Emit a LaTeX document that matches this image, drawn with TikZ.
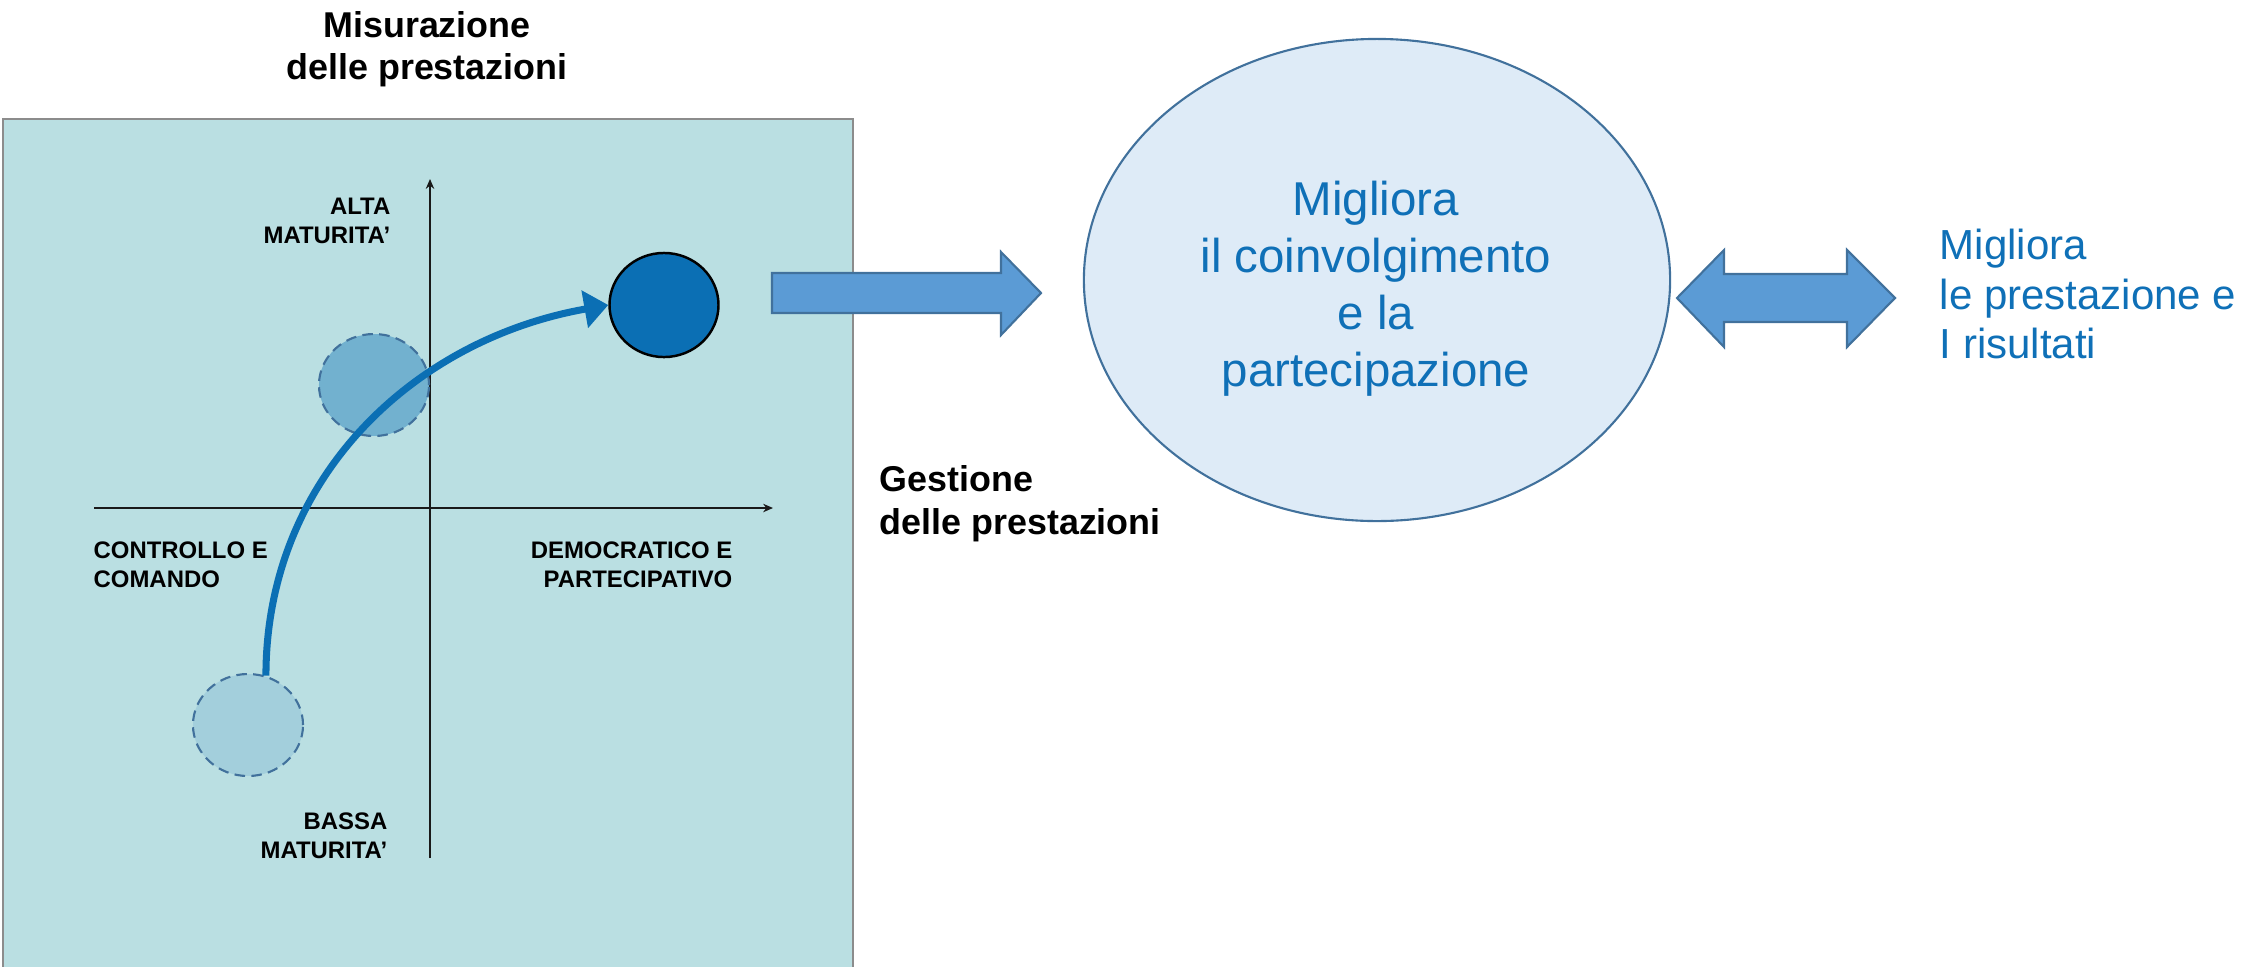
\documentclass[tikz,border=0pt]{standalone}
\usepackage{fontspec}
\setmainfont{Liberation Sans}
\usetikzlibrary{arrows.meta,shapes.geometric,positioning}

\definecolor{panelteal}{HTML}{BADFE2}
\definecolor{ringblue}{HTML}{41719C}
\definecolor{arrowblue}{HTML}{5B9BD5}
\definecolor{deepblue}{HTML}{0B6FB4}
\definecolor{textblue}{HTML}{0F70B7}
\definecolor{midblue}{HTML}{72B1CF}
\definecolor{paleblue}{HTML}{A3CFDC}
\definecolor{cloud}{HTML}{DEEBF7}

\begin{document}
\begin{tikzpicture}[x=0.01cm,y=-0.01cm,
    title node/.style={font=\bfseries\fontsize{10.2pt}{11.9pt}\selectfont,inner sep=0},
    axis label/.style={font=\bfseries\fontsize{6.8pt}{8.25pt}\selectfont,inner sep=0},
    axis/.style={line width=0.55pt,draw=black!90,-{Stealth[length=2.8pt,width=2.4pt]}},
    ghost/.style={ellipse,draw=ringblue,line width=0.6pt,dash pattern=on 3pt off 1.8pt,minimum width=31.3pt,minimum height=29pt,inner sep=0},
    goal/.style={ellipse,draw=black,line width=0.7pt,fill=deepblue,minimum width=31pt,minimum height=29.6pt,inner sep=0},
    trend/.style={line width=2pt,draw=deepblue,-{Triangle[length=6.8pt,width=10.5pt]}},
    block/.style={draw=ringblue,fill=arrowblue,line width=0.6pt,line join=miter},
    blue text/.style={text=textblue,inner sep=0}]

    \useasboundingbox (0,0) rectangle (2245,966);

    % quadrant panel
    \draw[draw=gray!90,fill=panelteal,line width=0.45pt] (3,119) rectangle (853,980);
    \node[title node,align=center] (title) at (427,49) {Misurazione\\delle prestazioni};

    \coordinate (yb) at (430,858);
    \coordinate (yt) at (430,179);
    \coordinate (xl) at (94,508);
    \coordinate (xr) at (773,508);
    \path (yb) edge[axis] (yt)
          (xl) edge[axis] (xr);

    \node[axis label,align=right,anchor=east] (alta) at (391,221) {ALTA\\MATURITA’};
    \node[axis label,align=right,anchor=east] (bassa) at (388,836) {BASSA\\MATURITA’};
    \node[axis label,align=left,anchor=west] (ctrl) at (93,565) {CONTROLLO E\\COMANDO};
    \node[axis label,align=right,anchor=east] (demo) at (733,565) {DEMOCRATICO E\\PARTECIPATIVO};

    \node[ghost,fill=midblue] (mid) at (374,385) {};
    \node[ghost,fill=paleblue] (low) at (248,725) {};
    \node[goal] (top) at (664,305) {};
    \path (low.70) edge[trend,out=90,in=190] (top.west);

    % right hand side
    \coordinate (pushtip) at (1041,293);
    \draw[block] (772,273) -- (1001,273) -- (1001,252) -- (pushtip) -- (1001,335) -- (1001,313) -- (772,313) -- cycle;
    \node[ellipse,draw=ringblue,fill=cloud,line width=0.6pt,minimum width=166.7pt,minimum height=137.1pt] (coinv) at (1377,280) {};
    \node[blue text,align=center,font=\fontsize{13.5pt}{16.2pt}\selectfont] (coinvtext) at (1376,289)
        {Migliora\\il coinvolgimento\\e la\\partecipazione};
    \coordinate (bothl) at (1677,298);
    \coordinate (bothr) at (1895,298);
    \draw[block] (bothl) -- (1724,250) -- (1724,274) -- (1847,274) -- (1847,250) -- (bothr)
        -- (1847,347) -- (1847,322) -- (1724,322) -- (1724,347) -- cycle;
    \node[blue text,align=left,anchor=west,font=\fontsize{11.95pt}{14.2pt}\selectfont] (result) at (1939,294)
        {Migliora\\le prestazione e\\I risultati};
    \node[title node,align=left,anchor=west,font=\bfseries\fontsize{10.2pt}{12.2pt}\selectfont] (gest) at (879,504)
        {Gestione\\delle prestazioni};
\end{tikzpicture}
\end{document}
